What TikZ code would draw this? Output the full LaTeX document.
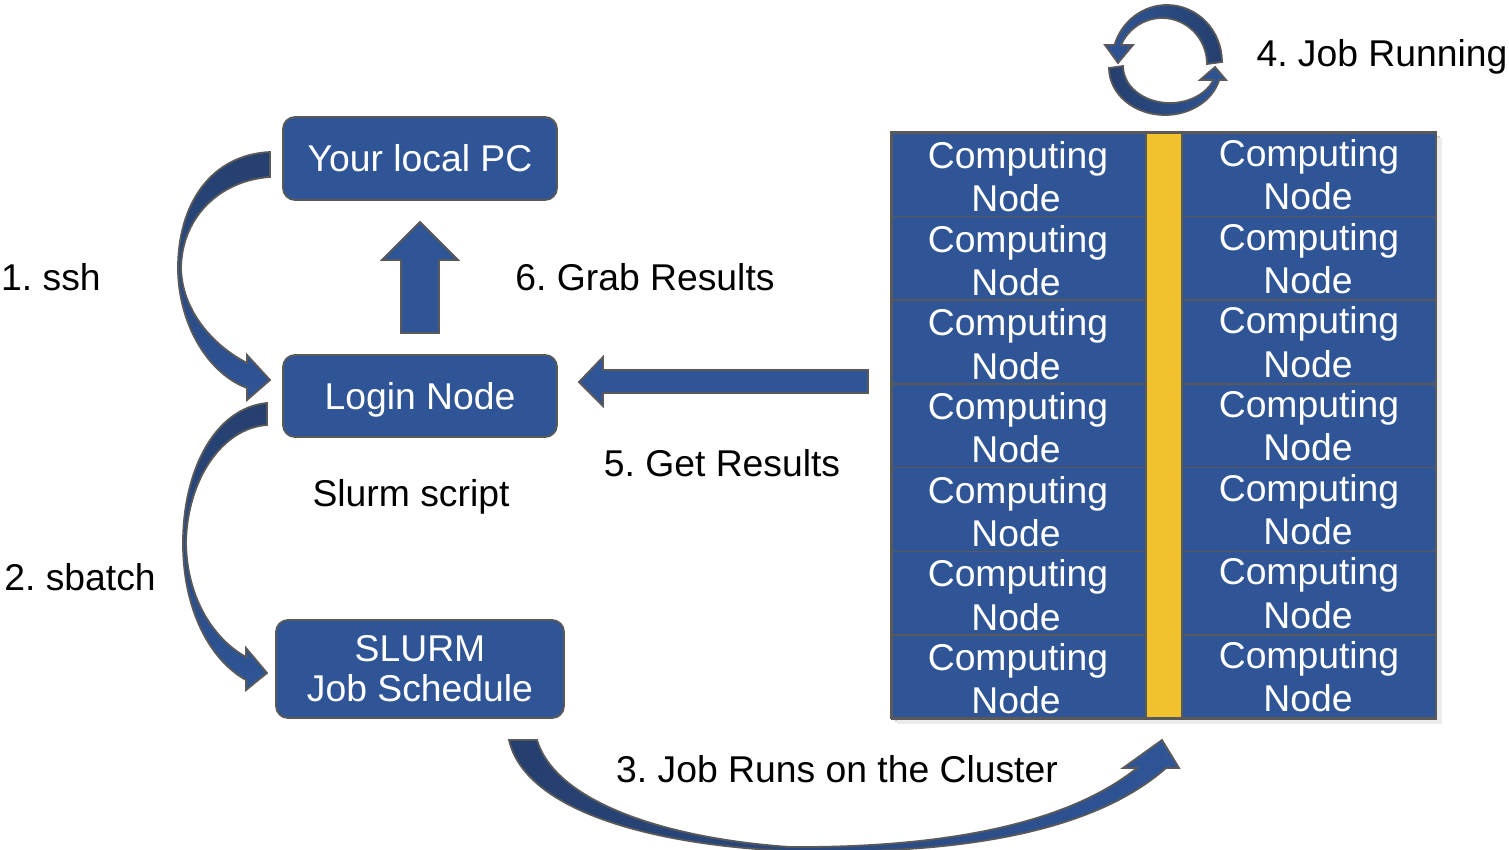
\documentclass[tikz,border=0pt]{standalone}
\usepackage{fontspec}
\setmainfont{Liberation Sans}
\definecolor{boxblue}{HTML}{2F5597}
\definecolor{darkblue}{HTML}{253F6E}
\definecolor{edgegray}{HTML}{595959}
\definecolor{barY}{HTML}{F2C12E}
\newcommand{\bigtxt}{\fontsize{37.3}{40}\selectfont}
\frenchspacing
\begin{document}
\frenchspacing
\begin{tikzpicture}[x=1pt,y=-1pt,
  box/.style={draw=edgegray, line width=1.8pt, fill=boxblue, rounded corners=12pt,
    text=white, font=\bigtxt, inner sep=0pt, align=center},
  oneline/.style={text height=26.7pt, text depth=0pt},
  lbl/.style={font=\bigtxt, inner sep=0pt, text=black, anchor=base},
  celltxt/.style={font=\bigtxt, inner sep=0pt, text=white, anchor=base},
  cellbox/.style={draw=edgegray, line width=1.5pt, fill=boxblue, inner sep=0pt,
    anchor=north west, minimum width=254pt, minimum height=83.71pt},
  blockarrow/.style={draw=edgegray, line width=1.8pt, fill=boxblue, line join=miter},
  shadedarrow/.style={draw=edgegray, line width=1.8pt, line join=miter}
]
\useasboundingbox (0,0) rectangle (1509,849);

% ---- boxes ----
\node[box, oneline, minimum width=274pt, minimum height=83pt] (pc) at (420,158.5) {Your local PC};
\node[box, oneline, minimum width=274pt, minimum height=82pt] (login) at (420,396) {Login Node};
\node[box, minimum width=288pt, minimum height=98pt] (slurm) at (420,669) {SLURM\\Job Schedule};

% ---- labels ----
\node[lbl] (l1) at (51,290) {1. ssh};
\node[lbl] (l2) at (80,590) {2. sbatch};
\node[lbl] (l3) at (837,782) {3. Job Runs on the Cluster};
\node[lbl] (l4) at (1382,66) {4. Job Running};
\node[lbl] (l5) at (722,476) {5. Get Results};
\node[lbl] (l6) at (645,290) {6. Grab Results};
\node[lbl] (ls) at (411,506) {Slurm script};

% ---- cluster grid ----
\fill[black!18] (895,136) rectangle (1440,722);
\fill[black!8] (897,138) rectangle (1442,724);
\node[draw=edgegray, line width=1.5pt, fill=barY, inner sep=0pt, anchor=north west,
  minimum width=36pt, minimum height=586pt] (bar) at (1145,132) {};
\foreach \r in {0,...,6} {
  \pgfmathsetmacro{\tp}{132+83.714*\r}
  \node[cellbox] (L\r) at (891,\tp) {};
  \node[cellbox] (R\r) at (1181,\tp) {};
  \node[celltxt] (L\r a) at (1018,\tp+36.3) {Computing};
  \node[celltxt] (L\r b) at (1016,\tp+79.7) {Node};
  \node[celltxt] (R\r a) at (1309,\tp+34.3) {Computing};
  \node[celltxt] (R\r b) at (1308,\tp+77.7) {Node};
}
\draw[edgegray, line width=2pt] (891,132) rectangle (1436,718);

% ---- straight block arrows ----
\draw[blockarrow] (401,333) -- (401,260) -- (382,260) -- (420,222) -- (458,260)
  -- (439,260) -- (439,333) -- cycle;
\draw[blockarrow] (868,370) -- (603,370) -- (603,357) -- (579,382) -- (603,406)
  -- (603,393) -- (868,393) -- cycle;

% ---- curved arrow 1 (ssh) ----
\draw[shadedarrow, top color=darkblue, bottom color=boxblue]
  (270,152) .. controls (210,155) and (178,205) .. (178,268)
  .. controls (178,320) and (205,372) .. (247,388)
  -- (247,400) -- (270,380) -- (247,355) -- (247,363)
  .. controls (212,345) and (182,310) .. (181,268)
  .. controls (182,215) and (222,180) .. (270,177) -- cycle;

% ---- curved arrow 2 (sbatch) ----
\draw[shadedarrow, top color=darkblue, bottom color=boxblue]
  (267,403) .. controls (215,408) and (183,470) .. (183,543)
  .. controls (183,610) and (210,660) .. (246,680)
  -- (246,690) -- (267,673) -- (246,648) -- (246,657)
  .. controls (215,640) and (187,600) .. (186,543)
  .. controls (187,480) and (222,428) .. (267,425) -- cycle;

% ---- curved arrow 3 (to cluster) ----
\draw[shadedarrow, left color=darkblue, right color=boxblue]
  (509,740) .. controls (525,810) and (650,845) .. (790,851)
  .. controls (950,855) and (1090,835) .. (1166,768)
  -- (1179,768) -- (1162,740) -- (1123,768) -- (1137,768)
  .. controls (1070,822) and (950,848) .. (790,847)
  .. controls (660,838) and (555,800) .. (537,740) -- cycle;

% ---- circular arrows (job running) ----
\draw[shadedarrow, left color=boxblue, right color=darkblue]
  (1222,62) arc[start angle=0, end angle=-162.7, x radius=55, y radius=57]
  -- (1105,45) -- (1118,63) -- (1133,45) -- (1121,45)
  arc[start angle=-155.6, end angle=0, x radius=45, y radius=46] -- cycle;
\draw[shadedarrow, left color=darkblue, right color=boxblue]
  (1109,68) arc[start angle=180, end angle=14.8, x radius=56, y radius=47]
  -- (1226,80) -- (1215,67) -- (1200,80) -- (1213.5,80)
  arc[start angle=22.2, end angle=180, x radius=47, y radius=37] -- cycle;
\end{tikzpicture}
\end{document}
